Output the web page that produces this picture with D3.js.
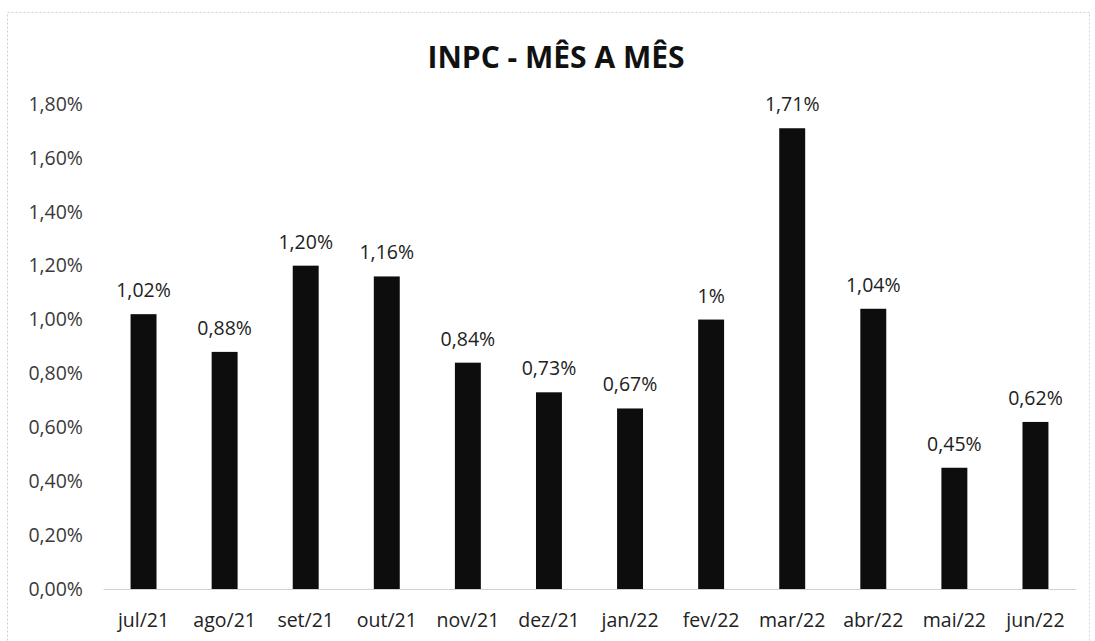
<!DOCTYPE html>
<html><head><meta charset="utf-8">
<script src="https://cdn.jsdelivr.net/npm/d3@7"></script>
<style>body{margin:0;background:#fff}svg{display:block}</style>
</head><body>
<svg id="c" width="1095" height="641"></svg>
<script>
const categories = ["jul/21","ago/21","set/21","out/21","nov/21","dez/21","jan/22","fev/22","mar/22","abr/22","mai/22","jun/22"];
const values = [1.02,0.88,1.20,1.16,0.84,0.73,0.67,1.00,1.71,1.04,0.45,0.62];
const valueLabels = ["1,02%","0,88%","1,20%","1,16%","0,84%","0,73%","0,67%","1%","1,71%","1,04%","0,45%","0,62%"];
const yTicks = [0,0.2,0.4,0.6,0.8,1.0,1.2,1.4,1.6,1.8];
const title = "INPC - MÊS A MÊS";

const svg = d3.select("#c");
const font = "'Open Sans', sans-serif";
const fs = 19.5;
svg.append("rect").attr("x",7.5).attr("y",12.5).attr("width",1082).attr("height",640)
  .attr("fill","#fff").attr("stroke","#cfcfcf").attr("stroke-dasharray","2,2");

const x = d3.scaleBand().domain(categories).range([103,1076]).paddingInner(0.68).paddingOuter(0.34);
const y = d3.scaleLinear().domain([0,1.8]).range([589,104]);

svg.append("text").attr("x",556).attr("y",68).attr("text-anchor","middle")
  .attr("font-family",font).attr("font-weight","bold").attr("font-size",30).attr("fill","#111").text(title);

const yAxis = d3.axisLeft(y).tickValues(yTicks).tickSize(0).tickPadding(0)
  .tickFormat(d => d.toFixed(2).replace(".",",")+"%");
const gy = svg.append("g").attr("transform","translate(83,0)").call(yAxis);
gy.select(".domain").remove();
gy.selectAll("text").attr("font-family",font).attr("font-size",fs).attr("font-weight",400).attr("fill","#3a3a3a");

const xAxis = d3.axisBottom(x).tickSize(0).tickPadding(24);
const gx = svg.append("g").attr("transform","translate(0,589)").call(xAxis);
gx.select(".domain").attr("stroke","#d0d0d0");
gx.selectAll("text").attr("font-family",font).attr("font-size",fs).attr("font-weight",400).attr("fill","#222");

svg.selectAll("rect.bar").data(values).enter().append("rect").attr("class","bar")
  .attr("x",(d,i)=>x(categories[i])).attr("width",x.bandwidth())
  .attr("y",d=>y(d)).attr("height",d=>y(0)-y(d)).attr("fill","#0d0d0d");

svg.selectAll("text.vl").data(values).enter().append("text").attr("class","vl")
  .attr("x",(d,i)=>x(categories[i])+x.bandwidth()/2).attr("y",d=>y(d)-17)
  .attr("text-anchor","middle").attr("font-family",font).attr("font-size",fs).attr("font-weight",400).attr("fill","#222")
  .text((d,i)=>valueLabels[i]);
</script>
</body></html>
